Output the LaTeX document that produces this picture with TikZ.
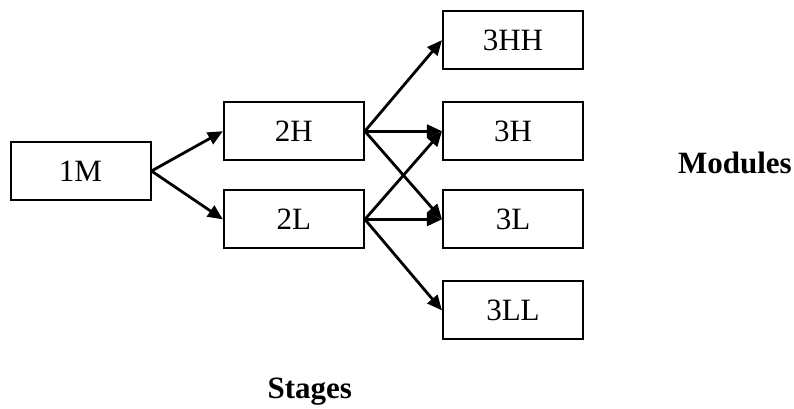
\documentclass[tikz,border=0pt]{standalone}
\usepackage{fontspec}
\setmainfont{Liberation Serif}
\usetikzlibrary{arrows, arrows.meta, positioning}

\begin{document}
\begin{tikzpicture}[node distance=3.75cm, auto]
        \tikzstyle{box} = [rectangle, minimum width=70pt, minimum height=29pt, text centered, draw=black, line width=1pt, font=\fontsize{15.5}{18}\selectfont]
        \tikzstyle{arrow} = [line width=1.4pt,-{Triangle[length=7.5pt,width=6.5pt]}]
        \tikzstyle{heading} = [font=\fontsize{15.5}{18}\selectfont\bfseries]

        \useasboundingbox (0,0) rectangle (397pt,-204pt);

        \node (m1) [box] at (40.25pt,-85.5pt) {1M};
        \node (h2) [box, right of=m1, yshift=0.7cm] {2H};
        \node (l2) [box, right of=m1, yshift=-0.85cm] {2L};
        \node (hh3) [box, right of=h2, xshift=0.1cm, yshift=1.6cm] {3HH};
        \node (h3) [box, right of=h2, xshift=0.1cm] {3H};
        \node (l3) [box, right of=l2, xshift=0.1cm] {3L};
        \node (ll3) [box, right of=l2, xshift=0.1cm, yshift=-1.6cm] {3LL};

        \node (modules) [heading, right of=h3, xshift=0.15cm, yshift=-0.55cm] {Modules};
        \node (stages) [heading, below of=l2, xshift=0.28cm, yshift=0.73cm] {Stages};

        \draw [arrow] (m1.east) -- (h2.west);
        \draw [arrow] (m1.east) -- (l2.west);
        \draw [arrow] (h2.east) -- (hh3.west);
        \draw [arrow] (h2.east) -- (h3.west);
        \draw [arrow] (h2.east) -- (l3.west);
        \draw [arrow] (l2.east) -- (h3.west);
        \draw [arrow] (l2.east) -- (l3.west);
        \draw [arrow] (l2.east) -- (ll3.west);
    \end{tikzpicture}
\end{document}
